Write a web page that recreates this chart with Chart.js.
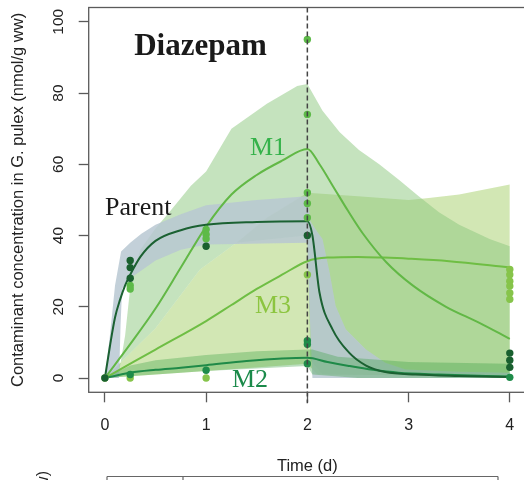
<!DOCTYPE html>
<html>
<head>
<meta charset="utf-8">
<script src="https://cdn.jsdelivr.net/npm/chart.js@4.4.1/dist/chart.umd.min.js"></script>
<style>
    html, body { margin: 0; padding: 0; background: #fff; overflow: hidden; }
    canvas { display: block; }
</style>
</head>
<body>
<canvas id="pkChart" width="530" height="480" style="width:530px;height:480px"></canvas>
<script>
// --- Daten ---

const timeTicks = [0, 1, 2, 3, 4];
const concTicks = [0, 20, 40, 60, 80, 100];
const exposureEnd = 2;

// Modellkurven
const parentFitT = [0, 0.05, 0.1, 0.15, 0.2, 0.25, 0.35, 0.5, 0.75, 1, 1.5, 2, 2.05, 2.12, 2.25, 2.41, 2.58, 2.77, 3.07, 3.5, 4];
const parentFit  = [0, 9, 17, 22, 26, 29, 34, 38.5, 41.5, 43, 43.8, 44, 40, 24, 13.6, 7.2, 3.5, 1.7, 1.0, 0.6, 0.3];

const m1FitT = [0, 0.25, 0.5, 0.75, 1, 1.25, 1.5, 1.75, 2, 2.12, 2.25, 2.4, 2.55, 2.78, 3.04, 3.37, 3.7, 4];
const m1Fit  = [0, 9.5, 19.5, 31, 42.5, 51.5, 57, 61, 64.3, 60, 54, 47, 40.5, 32.5, 26, 20, 15.5, 11];

const m3FitT = [0, 0.5, 1, 1.25, 1.5, 1.75, 2, 2.2, 2.5, 2.75, 3, 3.4, 4];
const m3Fit  = [0, 8, 16, 20.5, 25, 29, 32.8, 33.8, 34, 33.8, 33.5, 32.8, 31];

const m2FitT = [0, 0.25, 0.5, 0.75, 1, 1.4, 2, 2.2, 2.41, 2.65, 2.9, 3.3, 4];
const m2Fit  = [0, 1.5, 2.3, 2.9, 3.6, 4.8, 5.7, 4.5, 3.4, 2.3, 1.5, 1, 0.4];

// Unsicherheitsbaender (oben / unten)
const parentUpT = [0, 0.05, 0.1, 0.16, 0.25, 0.36, 0.5, 0.75, 1, 1.5, 2, 2.03, 2.1, 2.15, 2.22, 2.28, 2.38, 2.58, 2.77, 2.97, 3.5, 4];
const parentUp  = [0, 12, 26, 35.5, 38, 40.5, 43, 46, 48.5, 50, 51, 44, 41, 39, 29.6, 20.2, 13.7, 8, 4.3, 2.4, 1.8, 1.5];
const parentLowT = [0, 0.14, 0.155, 0.17, 0.25, 0.35, 0.5, 0.75, 1, 2, 2.02, 2.05, 4];
const parentLow  = [0, 0, 15, 25, 28, 30, 33, 36, 37.5, 38, 20, 0, 0];

const m1UpT = [0, 0.13, 0.2, 0.26, 0.35, 0.5, 0.65, 0.85, 1, 1.25, 1.6, 1.9, 2, 2.15, 2.32, 2.51, 2.71, 2.91, 3.1, 3.3, 3.5, 3.8, 4];
const m1Up  = [0, 0, 12, 28, 36, 42, 47, 54, 58, 70, 77, 82, 82.5, 75, 69, 64, 60, 55.5, 51, 46.5, 43, 39, 37];
const m1LowT = [0, 0.5, 0.94, 1.3, 2, 2.03, 2.15, 4];
const m1Low  = [0, 14, 30.5, 38, 40, 5, 1, 0.5];

const m3UpT = [0, 0.5, 0.94, 1.3, 1.6, 2, 2.5, 3, 3.2, 3.5, 4];
const m3Up  = [0, 14, 30.5, 38, 45, 52, 51, 50, 50.5, 51.5, 54.3];
const m3LowT = [0, 1, 2, 2.1, 4];
const m3Low  = [0, 2, 4, 1, 0.5];

const m2UpT = [0, 0.25, 0.5, 1, 1.5, 2, 2.05, 2.3, 3, 4];
const m2Up  = [0, 3.5, 5, 6.5, 7.5, 8, 8, 6, 4.5, 4];
const m2LowT = [0, 0.25, 1, 2, 2.05, 2.5, 4];
const m2Low  = [0, 0.5, 2, 3.4, 1, 0, 0];

// Messwerte
const parentObsT = [0, 0.25, 0.25, 0.25, 1, 2, 4, 4, 4];
const parentObs  = [0, 33, 31, 28, 37, 40, 7, 5, 3];
const m1ObsT = [0.25, 0.25, 1, 1, 1, 2, 2, 2, 2, 2];
const m1Obs  = [26, 25, 41.7, 40.3, 39.1, 95, 74, 52, 49, 45];
const m2ObsT = [0.25, 1, 2, 2, 2, 4];
const m2Obs  = [1, 2.2, 10.5, 9.5, 4, 0.2];
const m3ObsT = [0, 0.25, 1, 2, 4, 4, 4, 4, 4, 4];
const m3Obs  = [0, 0, 0, 29, 30.5, 29, 27.2, 25.8, 23.9, 22.1];

// --- Hilfsfunktionen ---

function pts(xs, ys) {
    return xs.map((x, i) => ({ x: x, y: ys[i] }));
}

function band(lowT, low, upT, up, color, order) {
    return [
        { data: pts(lowT, low), borderColor: 'rgba(0,0,0,0)', borderWidth: 0, pointRadius: 0, fill: false, order: order },
        { data: pts(upT, up), borderColor: 'rgba(0,0,0,0)', borderWidth: 0, pointRadius: 0, backgroundColor: color, fill: '-1', order: order }
    ];
}

function fitLine(xs, ys, color, order) {
    return { data: pts(xs, ys), borderColor: color, borderWidth: 2, pointRadius: 0, fill: false,
             cubicInterpolationMode: 'monotone', order: order };
}

function obs(xs, ys, color, order) {
    return { data: pts(xs, ys), showLine: false, pointRadius: 3.7, pointBorderWidth: 0,
             pointBackgroundColor: color, borderColor: color, fill: false, order: order };
}

const sans = "'Liberation Sans', Arial, sans-serif";
const serif = "'Liberation Serif', 'Times New Roman', serif";

// --- Plugin: Rahmen, Beschriftungen ---

const decorations = {
    id: 'decorations',
    afterDatasetsDraw(chart) {
        const ctx = chart.ctx;
        const a = chart.chartArea;
        const xs = chart.scales.x;

        // gestrichelte Linie bei Expositionsende
        const xe = xs.getPixelForValue(exposureEnd);
        ctx.save();
        ctx.strokeStyle = '#444';
        ctx.lineWidth = 1.5;
        ctx.setLineDash([5, 3]);
        ctx.beginPath();
        ctx.moveTo(xe, a.top);
        ctx.lineTo(xe, a.bottom + 11);
        ctx.stroke();
        ctx.restore();
    },
    afterDraw(chart) {
        const ctx = chart.ctx;
        const a = chart.chartArea;
        const ys = chart.scales.y;

        ctx.save();
        ctx.strokeStyle = '#5a5a5a';
        ctx.lineWidth = 1.3;
        ctx.strokeRect(a.left, a.top, a.right - a.left, a.bottom - a.top);

        // gedrehte y-Achsenbeschriftung
        ctx.fillStyle = '#222';
        ctx.font = '15.5px ' + sans;
        ctx.textAlign = 'center';
        ctx.textBaseline = 'middle';
        concTicks.forEach(v => {
            ctx.save();
            ctx.translate(58.5, ys.getPixelForValue(v));
            ctx.rotate(-Math.PI / 2);
            ctx.fillText(String(v), 0, 0);
            ctx.restore();
        });

        // Titel und Kurvennamen
        ctx.textBaseline = 'alphabetic';
        ctx.fillStyle = '#1a1a1a';
        ctx.font = 'bold 31px ' + serif;
        ctx.fillText('Diazepam', 200.5, 55);

        ctx.textAlign = 'left';
        ctx.font = '26px ' + serif;
        ctx.fillText('Parent', 105, 215);
        ctx.fillStyle = '#35b24a';
        ctx.fillText('M1', 250, 155);
        ctx.fillStyle = '#8cc540';
        ctx.fillText('M3', 255, 313);
        ctx.fillStyle = '#1b8a4a';
        ctx.fillText('M2', 232, 387);

        // Anfang des naechsten Panels
        ctx.strokeStyle = '#666';
        ctx.lineWidth = 1.2;
        ctx.beginPath();
        ctx.moveTo(107, 476.5); ctx.lineTo(498, 476.5);
        ctx.moveTo(107, 476.5); ctx.lineTo(107, 481);
        ctx.moveTo(183, 476.5); ctx.lineTo(183, 481);
        ctx.moveTo(498, 476.5); ctx.lineTo(498, 481);
        ctx.stroke();
        ctx.fillStyle = '#222';
        ctx.font = '16px ' + sans;
        ctx.textAlign = 'right';
        ctx.translate(48, 471);
        ctx.rotate(-Math.PI / 2);
        ctx.fillText('(nmol/g ww)', 0, 0);
        ctx.restore();
    }
};

// --- Diagramm ---

const datasets = [].concat(
    band(m3LowT, m3Low, m3UpT, m3Up, 'rgba(180,215,130,0.6)', 90),
    band(m1LowT, m1Low, m1UpT, m1Up, 'rgba(140,200,125,0.5)', 80),
    band(parentLowT, parentLow, parentUpT, parentUp, 'rgba(185,200,210,0.85)', 70),
    band(m2LowT, m2Low, m2UpT, m2Up, 'rgba(60,160,70,0.35)', 60),
    [
        fitLine(m3FitT, m3Fit, '#6fbe44', 24),
        fitLine(m1FitT, m1Fit, '#62b846', 23),
        fitLine(m2FitT, m2Fit, '#1f8a48', 22),
        fitLine(parentFitT, parentFit, '#1b6132', 21),
        obs(m3ObsT, m3Obs, '#86c44a', 14),
        obs(m1ObsT, m1Obs, '#5dba48', 13),
        obs(m2ObsT, m2Obs, '#1f8c4a', 12),
        obs(parentObsT, parentObs, '#19602f', 11)
    ]
);

const tickGrid = {
    drawOnChartArea: false,
    drawTicks: true,
    tickLength: 10,
    tickWidth: 1.3,
    tickColor: '#5a5a5a'
};

new Chart(document.getElementById('pkChart').getContext('2d'), {
    type: 'line',
    data: { datasets: datasets },
    plugins: [decorations],
    options: {
        responsive: false,
        animation: false,
        devicePixelRatio: 1,
        layout: { padding: { top: 7.5, right: 2.8, left: 0, bottom: 0 } },
        plugins: { legend: { display: false }, tooltip: { enabled: false } },
        scales: {
            x: {
                type: 'linear',
                min: -0.16,
                max: 4.16,
                afterBuildTicks: s => { s.ticks = timeTicks.map(v => ({ value: v })); },
                afterFit: s => { s.height = 87.7; },
                grid: tickGrid,
                border: { display: false },
                ticks: { font: { family: sans, size: 16 }, color: '#222', padding: 13.5, maxRotation: 0, autoSkip: false },
                title: { display: true, text: 'Time (d)', font: { family: sans, size: 16.5 }, color: '#222',
                         padding: { top: 0, bottom: 4 } }
            },
            y: {
                type: 'linear',
                min: -4,
                max: 104,
                afterBuildTicks: s => { s.ticks = concTicks.map(v => ({ value: v })); },
                afterFit: s => { s.width = 88.7; },
                grid: tickGrid,
                border: { display: false },
                ticks: { display: false },
                title: { display: true, text: 'Contaminant concentration in G. pulex (nmol/g ww)',
                         font: { family: sans, size: 16.5 }, color: '#222', padding: { top: 9, bottom: 0 } }
            }
        }
    }
});
</script>
</body>
</html>
